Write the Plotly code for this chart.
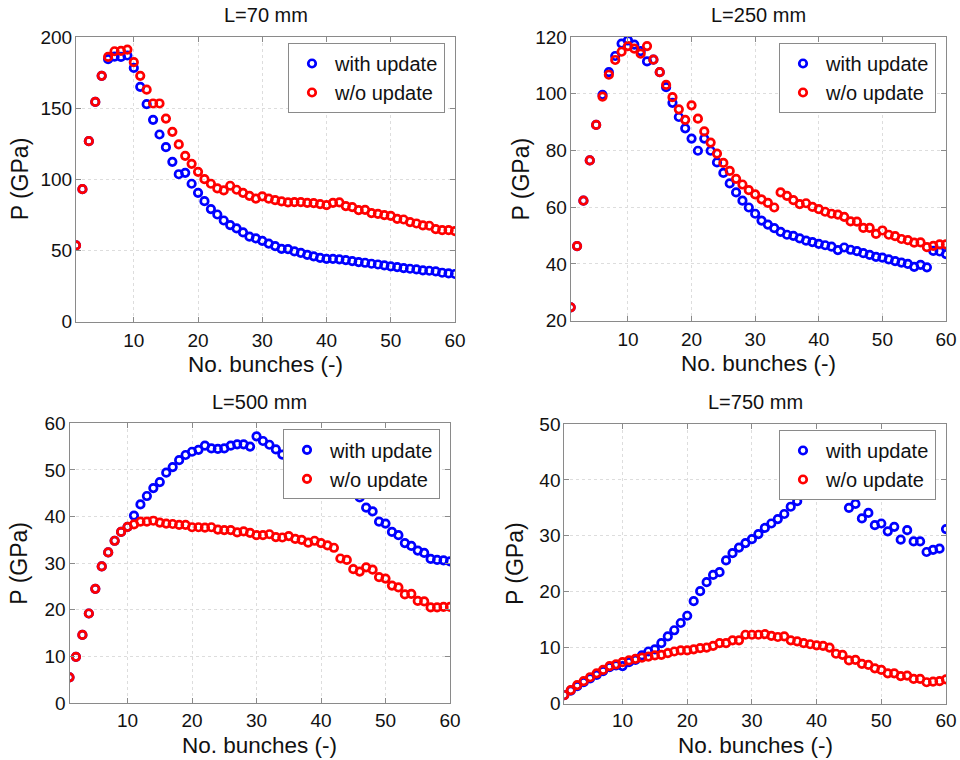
import plotly.graph_objects as go

W, H = 960, 760

n_bunches = list(range(1, 61))

# L = 70 mm
l70_with = [53.6, 93.1, 126.8, 154.4, 172.7, 184.4, 186.2, 186.0, 187.0, 178.3,
            165.0, 152.8, 141.8, 131.5, 122.6, 112.3, 103.6, 104.6, 96.9, 90.5,
            84.7, 79.1, 75.3, 71.1, 67.9, 65.5, 62.7, 59.7, 58.5, 56.8,
            54.9, 53.1, 51.2, 51.0, 49.4, 48.4, 47.0, 45.9, 44.9, 44.2,
            44.2, 43.8, 43.3, 42.6, 41.9, 41.4, 40.7, 40.2, 39.5, 38.8,
            38.4, 37.7, 37.2, 36.7, 36.0, 35.8, 35.3, 34.4, 33.9, 33.5]
l70_without = [53.6, 93.1, 126.8, 154.4, 172.7, 186.0, 190.0, 190.2, 191.2, 182.3,
               172.7, 163.0, 153.3, 153.3, 142.7, 133.4, 124.5, 116.5, 110.9, 105.3,
               100.1, 96.9, 93.6, 92.2, 95.5, 92.7, 90.5, 88.4, 86.5, 88.0,
               86.4, 85.4, 84.5, 83.8, 84.0, 84.0, 83.5, 83.3, 82.6, 81.9,
               83.5, 83.8, 81.2, 80.5, 78.4, 78.6, 76.3, 75.8, 74.9, 74.4,
               72.3, 71.8, 70.0, 69.0, 67.6, 67.4, 65.0, 64.3, 64.3, 63.6]

# L = 250 mm
l250_with = [24.7, 46.3, 62.3, 76.5, 89.0, 99.6, 107.6, 113.3, 117.7, 118.8,
             117.3, 115.0, 111.4, 112.0, 107.6, 102.3, 96.8, 91.8, 87.8, 84.2,
             79.9, 84.2, 79.9, 75.8, 72.1, 68.4, 65.2, 62.3, 59.9, 57.7,
             55.3, 53.9, 52.6, 51.3, 50.3, 49.9, 49.0, 48.2, 47.7, 47.1,
             46.6, 46.1, 44.9, 45.8, 45.0, 44.5, 43.8, 43.2, 42.5, 42.2,
             41.6, 41.0, 40.5, 40.0, 39.0, 39.7, 38.8, 44.6, 44.4, 43.5]
l250_without = [24.7, 46.3, 62.3, 76.5, 89.0, 99.0, 106.7, 111.9, 114.8, 116.8,
                115.9, 114.1, 116.8, 112.0, 107.6, 103.1, 98.8, 94.5, 90.8, 95.9,
                91.2, 86.7, 82.8, 78.9, 75.6, 72.8, 70.0, 68.0, 66.0, 64.5,
                62.8, 61.5, 59.9, 65.2, 64.0, 62.5, 61.1, 61.4, 60.1, 59.3,
                58.4, 57.7, 57.4, 56.6, 55.0, 54.9, 52.7, 52.7, 50.6, 51.8,
                50.3, 49.8, 48.8, 48.4, 47.5, 47.6, 45.9, 46.4, 46.9, 46.9]

# L = 500 mm
l500_with = [5.5, 9.9, 14.6, 19.2, 24.5, 29.3, 32.3, 34.8, 36.7, 37.8,
             40.2, 42.6, 44.4, 46.1, 47.4, 49.4, 50.6, 52.1, 53.2, 53.9,
             54.3, 55.2, 54.6, 54.5, 54.6, 55.2, 55.5, 55.5, 55.0, 57.2,
             56.2, 55.4, 54.4, 53.3, 52.6, 52.0, 51.5, 51.0, 50.5, 50.0,
             49.4, 48.8, 48.0, 47.2, 44.9, 44.1, 41.9, 41.1, 38.9, 38.5,
             36.7, 36.0, 34.3, 33.7, 32.7, 32.2, 30.9, 30.7, 30.6, 30.4]
l500_without = [5.5, 9.9, 14.6, 19.2, 24.5, 29.3, 32.3, 34.8, 36.7, 37.8,
                38.3, 38.9, 38.9, 39.1, 38.7, 38.5, 38.4, 38.2, 38.2, 37.7,
                37.7, 37.6, 37.7, 37.2, 37.1, 37.1, 36.6, 36.8, 36.5, 36.0,
                36.0, 36.2, 35.6, 35.5, 35.8, 35.2, 35.0, 34.4, 34.8, 34.3,
                33.8, 33.3, 31.0, 30.7, 28.7, 28.2, 29.1, 28.6, 27.0, 26.7,
                25.2, 24.8, 23.3, 23.4, 21.9, 21.8, 20.5, 20.5, 20.6, 20.6]

# L = 750 mm
l750_with = [1.5, 2.3, 3.1, 3.8, 4.5, 5.1, 5.8, 6.5, 6.8, 6.7,
             7.4, 7.8, 8.6, 9.3, 9.7, 10.8, 12.0, 13.1, 14.4, 15.7,
             18.3, 20.1, 21.7, 23.0, 23.5, 25.6, 26.9, 27.9, 28.7, 29.4,
             30.3, 31.4, 32.2, 33.0, 33.9, 35.2, 36.2, 37.4, 38.1, 39.0,
             39.6, 39.8, 37.5, 37.7, 35.0, 35.7, 33.1, 34.1, 31.9, 32.2,
             30.8, 31.6, 29.3, 31.0, 29.0, 29.0, 27.1, 27.5, 27.7, 31.2]
l750_without = [1.5, 2.4, 3.3, 4.0, 4.7, 5.4, 6.0, 6.7, 7.0, 7.4,
                7.7, 8.0, 8.2, 8.4, 8.6, 8.7, 9.0, 9.3, 9.5, 9.5,
                9.7, 9.9, 10.0, 10.3, 10.8, 10.8, 11.3, 11.3, 12.3, 12.3,
                12.3, 12.4, 12.1, 11.9, 12.0, 11.3, 11.1, 10.8, 10.6, 10.4,
                10.3, 10.0, 8.9, 8.7, 7.7, 7.8, 7.1, 6.9, 6.3, 6.0,
                5.4, 5.4, 4.9, 5.0, 4.4, 4.4, 3.8, 3.9, 4.0, 4.3]

titles = ["L=70 mm", "L=250 mm", "L=500 mm", "L=750 mm"]
series_names = ["with update", "w/o update"]
x_ticks = [10, 20, 30, 40, 50, 60]
y_ticks = [[0, 50, 100, 150, 200], [20, 40, 60, 80, 100, 120],
           [0, 10, 20, 30, 40, 50, 60], [0, 10, 20, 30, 40, 50]]
y_ranges = [[0, 200], [20, 120], [0, 60], [0, 50]]
x_label = "No. bunches (-)"
y_label = "P (GPa)"

data_with = [l70_with, l250_with, l500_with, l750_with]
data_without = [l70_without, l250_without, l500_without, l750_without]

# pixel boxes of the four axes: (left, right, top, bottom)
boxes = [(76, 455, 37, 321.7), (570.7, 946, 37, 320.7),
         (69.5, 450, 423.3, 703), (564.3, 946, 424, 703.5)]

FONT = "Liberation Sans, Arial, Helvetica, sans-serif"
AXC = "#8a8a8a"
TXT = "#111111"

fig = go.Figure()
layout = dict(width=W, height=H, margin=dict(l=0, r=0, t=0, b=0),
              paper_bgcolor="white", plot_bgcolor="white",
              font=dict(family=FONT, color=TXT), annotations=[])

for i in range(4):
    k = "" if i == 0 else str(i + 1)
    leg = "legend" + k
    for name, vals, col in [(series_names[0], data_with[i], "#0000ff"),
                            (series_names[1], data_without[i], "#ff0000")]:
        fig.add_trace(go.Scatter(
            x=n_bunches, y=vals, mode="markers", name=name,
            xaxis="x" + k, yaxis="y" + k, legend=leg,
            marker=dict(symbol="circle-open", size=7.5, color=col,
                        line=dict(width=2.7, color=col))))
    l, r, t, b = boxes[i]
    bottom_row = i >= 2
    common = dict(showline=True, mirror="ticks", linecolor=AXC, linewidth=1,
                  ticks="inside", ticklen=5, tickcolor=AXC, tickwidth=1,
                  showgrid=True, gridcolor="#dddddd", griddash="dot", gridwidth=1,
                  zeroline=False, automargin=False,
                  tickfont=dict(size=19, family=FONT, color=TXT))
    layout["xaxis" + k] = dict(common, domain=[l / W, r / W], range=[1, 60],
                               tickvals=x_ticks, anchor="y" + k,
                               ticklabelstandoff=0 if bottom_row else 1)
    layout["yaxis" + k] = dict(common, domain=[1 - b / H, 1 - t / H],
                               range=y_ranges[i], tickvals=y_ticks[i],
                               anchor="x" + k, ticklabelstandoff=-1)
    layout[leg] = dict(x=(r - 10) / W, y=1 - (t + 6) / H, xanchor="right",
                       yanchor="top", bgcolor="white", bordercolor="#8a8a8a",
                       borderwidth=1, font=dict(size=20, family=FONT, color=TXT),
                       itemwidth=36, tracegroupgap=0)
    cx = (l + r) / 2
    xl_y = 745 if bottom_row else b + 43
    layout["annotations"] += [
        dict(text=titles[i], x=cx / W, y=1 - (t - 21.5) / H, xref="paper", yref="paper",
             showarrow=False, xanchor="center", yanchor="middle",
             font=dict(size=20, family=FONT, color=TXT)),
        dict(text=x_label, x=cx / W, y=1 - xl_y / H, xref="paper", yref="paper",
             showarrow=False, xanchor="center", yanchor="middle",
             font=dict(size=22.5, family=FONT, color=TXT)),
        dict(text=y_label, x=(l - 56 if i == 0 else l - 50) / W,
             y=1 - ((t + b) / 2) / H, xref="paper", yref="paper",
             showarrow=False, xanchor="center", yanchor="middle", textangle=-90,
             font=dict(size=23, family=FONT, color=TXT)),
    ]

fig.update_layout(**layout)
fig.write_html("out.html", config={"displayModeBar": False},
               post_script="document.body.style.margin='0';"
                           "document.body.style.overflow='hidden';")
